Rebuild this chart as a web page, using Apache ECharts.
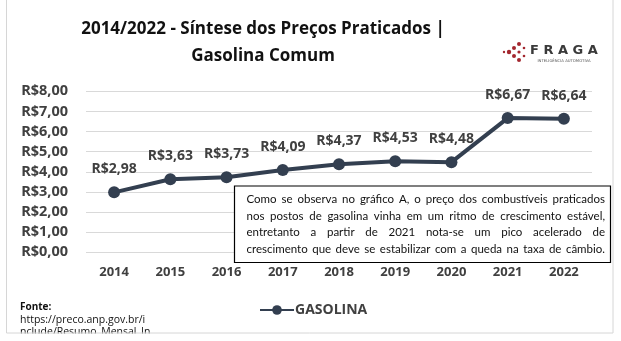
<!DOCTYPE html>
<html>
<head>
<meta charset="utf-8">
<script src="https://cdn.jsdelivr.net/npm/echarts@6/dist/echarts.min.js"></script>
<style>html,body{margin:0;padding:0;background:#fff}#c{width:621px;height:341px}</style>
</head>
<body>
<div id="c"></div>
<script>
const years = ['2014','2015','2016','2017','2018','2019','2020','2021','2022'];
const gasolina = [2.98, 3.63, 3.73, 4.09, 4.37, 4.53, 4.48, 6.67, 6.64];
const yMin = 0, yMax = 8, yStep = 1;
const seriesName = 'GASOLINA';
const titleText = '2014/2022 - Síntese dos Preços Praticados |\nGasolina Comum';
const noteLines = [
  'Como se observa no gráfico A, o preço dos combustíveis praticados',
  'nos postos de gasolina vinha em um ritmo de crescimento estável,',
  'entretanto a partir de 2021 nota-se um pico acelerado de',
  'crescimento que deve se estabilizar com a queda na taxa de câmbio.'
];
const sourceLines = ['https://preco.anp.gov.br/i', 'nclude/Resumo_Mensal_In'];

const textColor = '#404040';
const lineColor = '#333F50';
const fmt = v => 'R$' + v.toFixed(2).replace('.', ',');

function justify(line, x0, x1, y, size, family) {
  const ctx = document.createElement('canvas').getContext('2d');
  ctx.font = size + 'px ' + family;
  const words = line.split(' ');
  const w = words.map(s => ctx.measureText(s).width);
  const total = w.reduce((a, b) => a + b, 0);
  const gap = (x1 - x0 - total) / (words.length - 1);
  let x = x0;
  return words.map((s, i) => {
    const el = {type: 'text', x: x, y: y, silent: true, z: 15,
      style: {text: s, fill: '#111', fontSize: size, fontFamily: family, textVerticalAlign: 'middle'}};
    x += w[i] + gap;
    return el;
  });
}

const noteFamily = 'Lato';
const noteSize = 11.5;
let noteEls = [];
const noteYs = [199.5, 216, 232.5, 249];
noteLines.forEach((l, i) => { noteEls = noteEls.concat(justify(l, 246.5, 605, noteYs[i], noteSize, noteFamily)); });

// logo dots
const dotPts = [[519,44,2],[514,48,2],[509,52,2.2],[514,56,2],[519,60,2],[519,52,1.6],[524,48,1.3],[524,56,1.3],[504,52,1.2]];
const logoDots = dotPts.map(p => ({type: 'circle', silent: true, shape: {cx: p[0], cy: p[1], r: p[2]}, style: {fill: '#a3272f'}}));

const chart = echarts.init(document.getElementById('c'), null, {renderer: 'canvas'});
chart.setOption({
  backgroundColor: '#fff',
  animation: false,
  title: {
    text: titleText, left: 258, top: 11, textAlign: 'center',
    textStyle: {fontFamily: 'Open Sans', fontWeight: 'bold', fontSize: 17, lineHeight: 27, color: '#111'}
  },
  grid: {left: 86, right: 29, top: 91.3, bottom: 88.7},
  legend: {
    data: [seriesName], left: 254, top: 298, itemWidth: 34, itemHeight: 12, itemGap: 4,
    textStyle: {fontFamily: 'Open Sans', fontWeight: 'bold', fontSize: 14, color: textColor, padding: [0,0,0,-4]}
  },
  xAxis: {
    type: 'category', data: years, boundaryGap: true,
    axisLine: {show: false}, axisTick: {show: false},
    axisLabel: {margin: 13, fontFamily: 'Open Sans', fontWeight: 'bold', fontSize: 13, color: textColor}
  },
  yAxis: {
    type: 'value', min: yMin, max: yMax, interval: yStep,
    axisLine: {show: false}, axisTick: {show: false},
    splitLine: {lineStyle: {color: '#d9d9d9', width: 1}},
    axisLabel: {margin: 18, formatter: v => fmt(v), fontFamily: 'Open Sans', fontWeight: 'bold', fontSize: 14.5, color: textColor}
  },
  series: [{
    name: seriesName, type: 'line', data: gasolina,
    symbol: 'circle', symbolSize: 12,
    lineStyle: {color: lineColor, width: 4},
    itemStyle: {color: lineColor},
    label: {show: true, position: 'top', distance: 10, formatter: p => fmt(p.value),
      fontFamily: 'Open Sans', fontWeight: 'bold', fontSize: 14, color: textColor}
  }],
  graphic: [
    {type: 'rect', silent: true, z: 10, shape: {x: 234.5, y: 186, width: 376, height: 76.5},
      style: {fill: '#fff', stroke: '#000', lineWidth: 1.2}}
  ].concat(noteEls).concat([
    {type: 'text', silent: true, x: 20, y: 307, style: {text: 'Fonte:', fontFamily: 'Open Sans', fontWeight: 'bold', fontSize: 10, fill: '#111', textVerticalAlign: 'middle'}},
    {type: 'text', silent: true, x: 20, y: 320, style: {text: sourceLines[0], fontFamily: 'Open Sans', fontSize: 10.5, fill: '#111', textVerticalAlign: 'middle'}},
    {type: 'text', silent: true, x: 20, y: 332, style: {text: sourceLines[1], fontFamily: 'Open Sans', fontSize: 10.5, fill: '#111', textVerticalAlign: 'middle'}},
    {type: 'rect', silent: true, z: 20, shape: {x: 0, y: 333.5, width: 621, height: 10}, style: {fill: '#fff'}},
    {type: 'rect', silent: true, z: 21, shape: {x: 6.5, y: -10, width: 606.5, height: 343}, style: {fill: 'none', stroke: '#d6d6d6', lineWidth: 1}}
  ]).concat(logoDots).concat([
    {type: 'text', silent: true, x: 530, y: 51, style: {text: 'F R A G A', fontFamily: 'DejaVu Sans', fontWeight: 'bold', fontSize: 13, fill: '#3a3a3a', textVerticalAlign: 'middle'}},
    {type: 'text', silent: true, x: 564, y: 61, style: {text: 'INTELIGÊNCIA AUTOMOTIVA', fontFamily: 'DejaVu Sans', fontSize: 3.8, fill: '#555', textAlign: 'center', textVerticalAlign: 'middle'}}
  ])
});
</script>
</body>
</html>
